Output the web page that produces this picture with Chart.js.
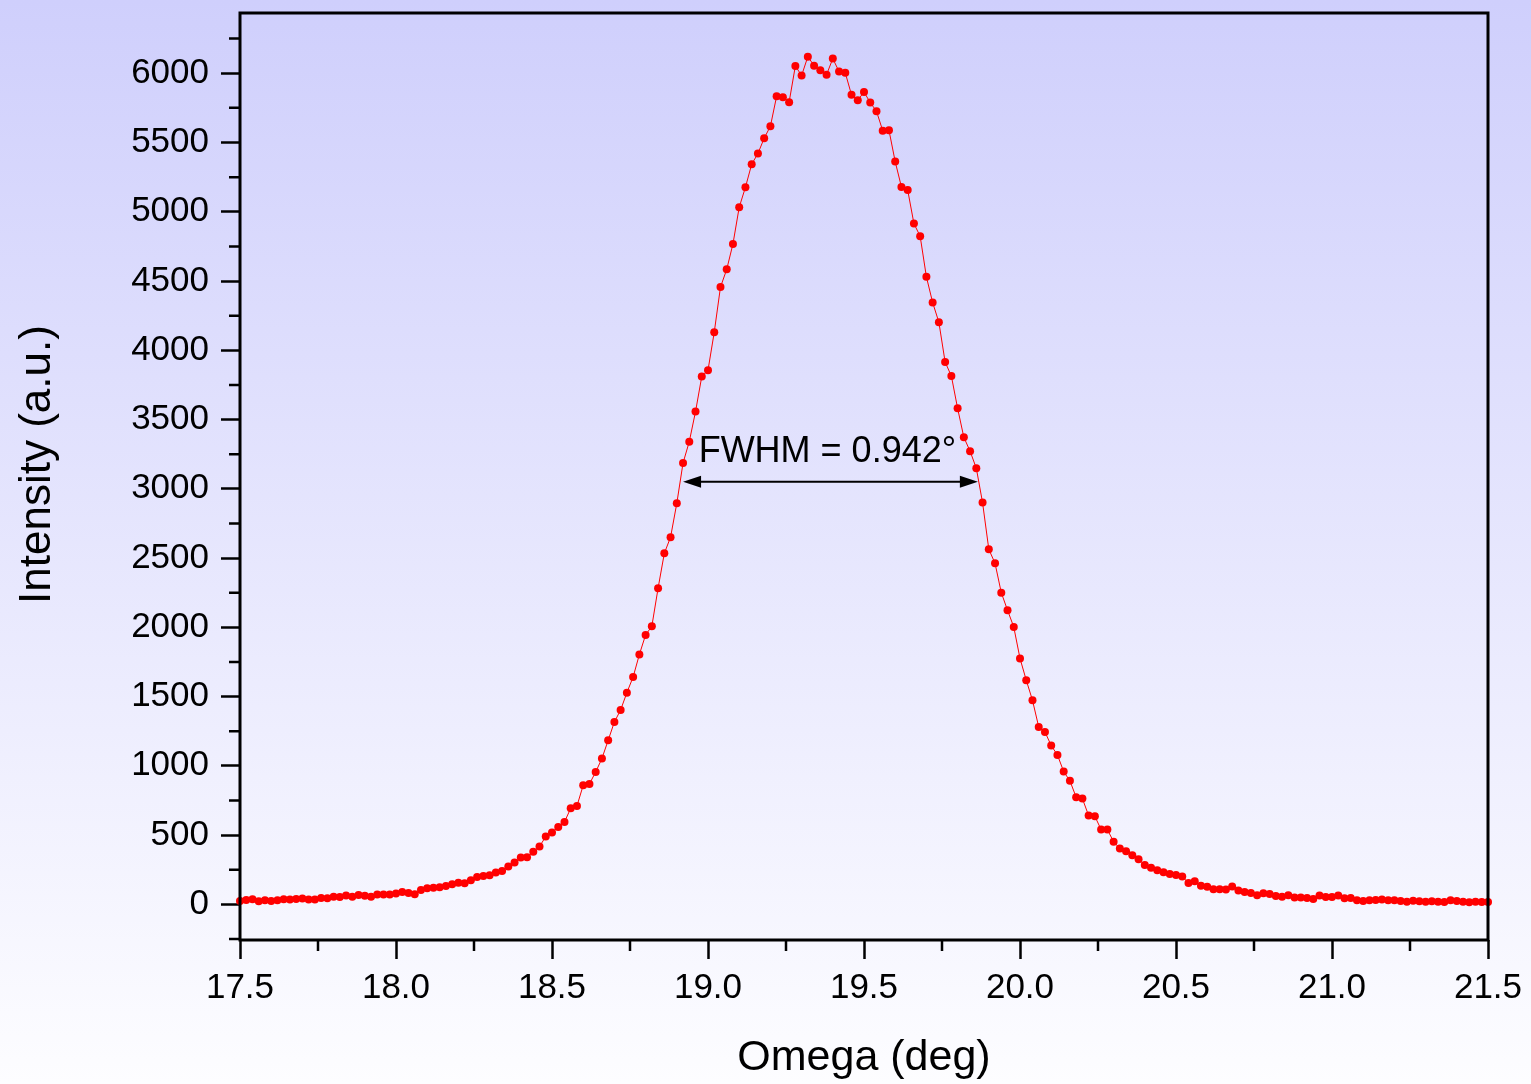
<!DOCTYPE html>
<html>
<head>
<meta charset="utf-8">
<script src="https://cdn.jsdelivr.net/npm/chart.js@4/dist/chart.umd.min.js"></script>
<style>
  html, body { margin: 0; padding: 0; }
  body {
    width: 1531px; height: 1084px; overflow: hidden;
    background: linear-gradient(to bottom, #cfcffc 0%, #fdfdff 100%);
  }
  #wrap { position: relative; width: 1531px; height: 1084px; }
</style>
</head>
<body>
<div id="wrap"><canvas id="rockingChart"></canvas></div>
<script>
// omega scan, sampled every 0.02 deg from 17.5 deg
const omegaStart = 17.5;
const omegaStep = 0.02;
const intensity = [
  24, 31, 36, 22, 29, 24, 29, 36, 34, 38,
  41, 34, 34, 46, 44, 55, 53, 63, 55, 67,
  61, 55, 70, 70, 70, 77, 89, 82, 72, 103,
  116, 120, 123, 132, 144, 156, 152, 173, 197, 204,
  209, 229, 241, 272, 301, 337, 339, 380, 417, 489,
  518, 558, 594, 693, 710, 859, 869, 955, 1052, 1184,
  1316, 1403, 1528, 1641, 1803, 1945, 2007, 2282, 2534, 2650,
  2895, 3186, 3340, 3557, 3810, 3856, 4130, 4456, 4584, 4768,
  5032, 5177, 5343, 5420, 5531, 5617, 5834, 5827, 5791, 6053,
  5983, 6120, 6055, 6022, 5990, 6106, 6012, 6003, 5844, 5805,
  5865, 5788, 5726, 5585, 5589, 5362, 5179, 5157, 4915, 4823,
  4530, 4345, 4202, 3915, 3814, 3581, 3372, 3271, 3148, 2900,
  2563, 2462, 2250, 2123, 2002, 1775, 1618, 1473, 1280, 1244,
  1146, 1078, 958, 891, 773, 763, 640, 635, 539, 539,
  452, 402, 383, 354, 325, 283, 263, 245, 231, 218,
  211, 200, 154, 167, 133, 126, 109, 109, 107, 128,
  100, 89, 82, 65, 79, 75, 60, 55, 65, 48,
  48, 46, 38, 63, 53, 53, 63, 43, 46, 29,
  24, 29, 31, 34, 29, 29, 24, 19, 26, 22,
  19, 22, 19, 17, 29, 24, 19, 14, 19, 17,
  17
];

const xTicks = [17.5, 18.0, 18.5, 19.0, 19.5, 20.0, 20.5, 21.0, 21.5];
const xMinor = [17.75, 18.25, 18.75, 19.25, 19.75, 20.25, 20.75, 21.25];
const yTicks = [0, 500, 1000, 1500, 2000, 2500, 3000, 3500, 4000, 4500, 5000, 5500, 6000];
const yMinor = [-250, 250, 750, 1250, 1750, 2250, 2750, 3250, 3750, 4250, 4750, 5250, 5750, 6250];

const fwhmText = 'FWHM = 0.942\u00b0';
const fwhmFrom = 18.92;
const fwhmTo = 19.865;
const fwhmLevel = 3050;
const fwhmTextX = 18.97;
const fwhmTextY = 3190;

const yTitle = 'Intensity (a.u.)';

const points = intensity.map((v, i) => ({ x: omegaStart + i * omegaStep, y: v }));

const fontFamily = '"Liberation Sans", Arial, Helvetica, sans-serif';

// frame, minor ticks, y title and the FWHM arrow
const extras = {
  id: 'extras',
  afterDatasetsDraw(chart) {
    const ctx = chart.ctx;
    const a = chart.chartArea;
    const xs = chart.scales.x;
    const ys = chart.scales.y;
    ctx.save();
    ctx.strokeStyle = '#000';
    ctx.lineWidth = 3;
    ctx.strokeRect(a.left, a.top, a.right - a.left, a.bottom - a.top);

    ctx.lineWidth = 2.5;
    ctx.beginPath();
    xMinor.forEach(v => {
      const px = xs.getPixelForValue(v);
      ctx.moveTo(px, a.bottom);
      ctx.lineTo(px, a.bottom + 11);
    });
    yMinor.forEach(v => {
      const py = ys.getPixelForValue(v);
      ctx.moveTo(a.left, py);
      ctx.lineTo(a.left - 11, py);
    });
    ctx.stroke();

    // arrow
    const x1 = xs.getPixelForValue(fwhmFrom);
    const x2 = xs.getPixelForValue(fwhmTo);
    const y = ys.getPixelForValue(fwhmLevel);
    ctx.lineWidth = 2;
    ctx.beginPath();
    ctx.moveTo(x1 + 8, y);
    ctx.lineTo(x2 - 8, y);
    ctx.stroke();
    ctx.fillStyle = '#000';
    ctx.beginPath();
    ctx.moveTo(x1, y);
    ctx.lineTo(x1 + 18, y - 6);
    ctx.lineTo(x1 + 18, y + 6);
    ctx.closePath();
    ctx.fill();
    ctx.beginPath();
    ctx.moveTo(x2, y);
    ctx.lineTo(x2 - 18, y - 6);
    ctx.lineTo(x2 - 18, y + 6);
    ctx.closePath();
    ctx.fill();

    ctx.font = '36px ' + fontFamily;
    ctx.textAlign = 'left';
    ctx.textBaseline = 'alphabetic';
    ctx.fillText(fwhmText, xs.getPixelForValue(fwhmTextX), ys.getPixelForValue(fwhmTextY));

    // y axis title
    ctx.translate(38, ys.getPixelForValue(3175));
    ctx.rotate(-Math.PI / 2);
    ctx.font = '44px ' + fontFamily;
    ctx.textAlign = 'center';
    ctx.textBaseline = 'middle';
    ctx.fillText(yTitle, 0, 0);
    ctx.restore();
  }
};

const ctx = document.getElementById('rockingChart').getContext('2d');
new Chart(ctx, {
  type: 'line',
  data: {
    datasets: [{
      label: 'Intensity',
      data: points,
      borderColor: '#ff0000',
      backgroundColor: '#ff0000',
      borderWidth: 1,
      pointRadius: 4,
      pointBorderWidth: 0,
      pointBackgroundColor: '#ff0000',
      tension: 0,
      fill: false,
      clip: 6
    }]
  },
  options: {
    responsive: true,
    maintainAspectRatio: false,
    animation: false,
    layout: { padding: { top: 13, right: 43, left: 0, bottom: 0 } },
    plugins: {
      legend: { display: false },
      tooltip: { enabled: false }
    },
    scales: {
      x: {
        type: 'linear',
        min: 17.5,
        max: 21.5,
        afterBuildTicks: scale => { scale.ticks = xTicks.map(v => ({ value: v })); },
        afterFit: scale => {
          scale.height = 144;
          scale.paddingLeft = 0;
          scale.paddingRight = 0;
        },
        border: { display: false },
        grid: {
          drawOnChartArea: false,
          drawTicks: true,
          tickLength: 19,
          tickWidth: 2.5,
          tickColor: '#000'
        },
        ticks: {
          color: '#000',
          padding: 8,
          maxRotation: 0,
          font: { family: fontFamily, size: 35 },
          callback: v => v.toFixed(1)
        },
        title: {
          display: true,
          text: 'Omega (deg)',
          color: '#000',
          font: { family: fontFamily, size: 43 },
          padding: { top: 0, bottom: 0 }
        }
      },
      y: {
        min: -258,
        max: 6435,
        afterBuildTicks: scale => { scale.ticks = yTicks.map(v => ({ value: v })); },
        afterFit: scale => {
          scale.width = 240;
          scale.paddingTop = 0;
          scale.paddingBottom = 0;
        },
        border: { display: false },
        grid: {
          drawOnChartArea: false,
          drawTicks: true,
          tickLength: 19,
          tickWidth: 2.5,
          tickColor: '#000'
        },
        ticks: {
          color: '#000',
          padding: 12,
          font: { family: fontFamily, size: 35 },
          callback: v => String(v)
        },
        title: { display: false }
      }
    }
  },
  plugins: [extras]
});
</script>
</body>
</html>
